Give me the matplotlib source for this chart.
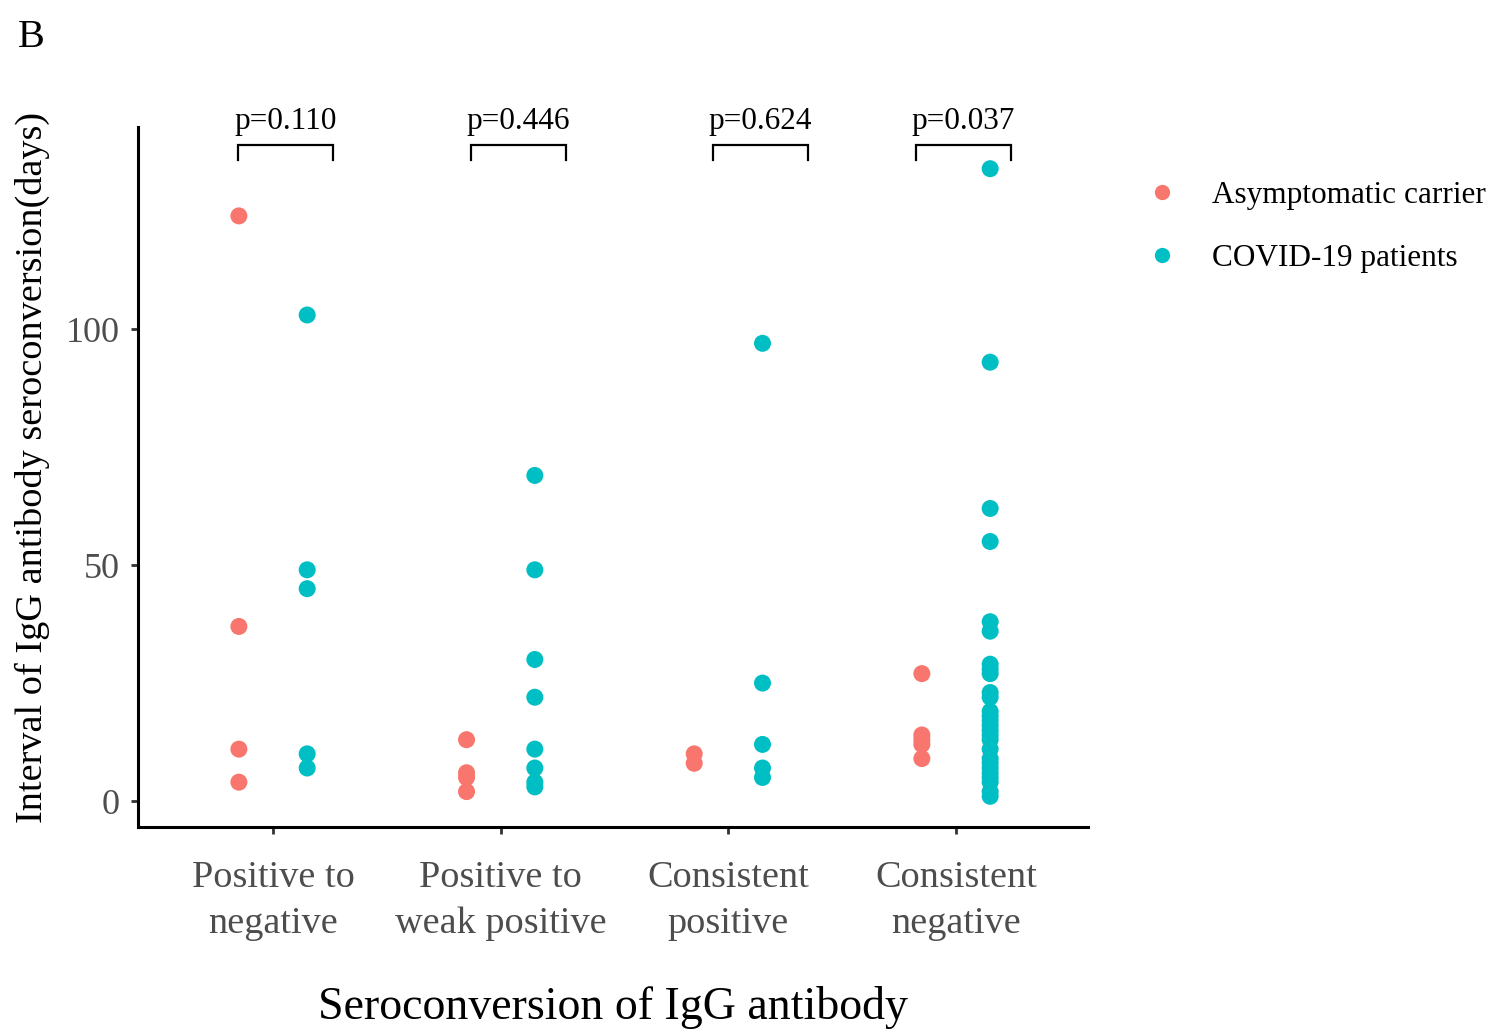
import matplotlib.pyplot as plt
from matplotlib.lines import Line2D

plt.rcParams['font.family'] = ['Liberation Serif', 'DejaVu Serif']

categories = ["Positive to\nnegative", "Positive to\nweak positive",
              "Consistent\npositive", "Consistent\nnegative"]
groups = ["Asymptomatic carrier", "COVID-19 patients"]
colors = ["#F8766D", "#00BFC4"]

asym_values = [
    [124, 37, 11, 4],
    [13, 6, 5, 2],
    [10, 8],
    [27, 14, 13, 12, 9],
]
covid_values = [
    [103, 49, 45, 10, 7],
    [69, 49, 30, 22, 11, 7, 4, 3],
    [97, 25, 12, 7, 5],
    [134, 93, 62, 55, 38, 36, 29, 28, 27, 23, 22,
     19, 18, 17, 16, 15, 14, 13, 11, 9, 8, 7, 6, 5, 4, 2, 1],
]

p_labels = ["p=0.110", "p=0.446", "p=0.624", "p=0.037"]
bracket_left = [0.846, 1.870, 2.933, 3.824]
bracket_right = [1.263, 2.287, 3.350, 4.241]
bracket_y = 139
bracket_tip = 135.8

fig = plt.figure(figsize=(15.02, 10.34), dpi=100)
ax = fig.add_axes([0.0919, 0.2002, 0.6325, 0.6768])

dodge = 0.15
for i in range(len(categories)):
    xpos = i + 1
    ax.scatter([xpos - dodge] * len(asym_values[i]), asym_values[i],
               s=150, color=colors[0], edgecolors='none', zorder=3, clip_on=False)
    ax.scatter([xpos + dodge] * len(covid_values[i]), covid_values[i],
               s=150, color=colors[1], edgecolors='none', zorder=3, clip_on=False)

# significance brackets
for xl, xr, lab in zip(bracket_left, bracket_right, p_labels):
    ax.plot([xl, xl, xr, xr], [bracket_tip, bracket_y, bracket_y, bracket_tip],
            color='black', lw=1.6, clip_on=False, solid_joinstyle='miter')
    ax.text((xl + xr) / 2, bracket_y + 2.0, lab, ha='center', va='bottom',
            fontsize=22.5, color='black')

ax.set_xlim(0.407, 4.580)
ax.set_ylim(-5.5, 142.8)
ax.set_xticks(range(1, len(categories) + 1))
ax.set_xticklabels(categories, fontsize=27.5, color='#4d4d4d', linespacing=1.45)
ax.set_yticks([0, 50, 100])
ax.set_yticklabels(["0", "50", "100"], fontsize=26, color='#4d4d4d')
ax.tick_params(axis='both', length=5, width=2.0, color='#333333')
ax.tick_params(axis='x', pad=19)
ax.tick_params(axis='y', pad=8)

for side in ['top', 'right']:
    ax.spines[side].set_visible(False)
for side in ['left', 'bottom']:
    ax.spines[side].set_linewidth(2.2)

ax.set_xlabel("Seroconversion of IgG antibody", fontsize=33, labelpad=32)
ax.set_ylabel("Interval of IgG antibody seroconversion(days)", fontsize=27.5)
ax.yaxis.set_label_coords(-0.093, 0.514)

handles = [Line2D([], [], marker='o', linestyle='none', markersize=11,
                  markerfacecolor=c, markeredgecolor='none') for c in colors]
fig.legend(handles, groups, loc='upper left', bbox_to_anchor=(0.7547, 0.837),
           frameon=False, fontsize=22.5, handlelength=1.0, handletextpad=1.1,
           labelspacing=1.08, borderaxespad=0)

fig.text(0.012, 0.955, "B", fontsize=29, ha='left', va='baseline')

fig.savefig("out.png", dpi=100)
